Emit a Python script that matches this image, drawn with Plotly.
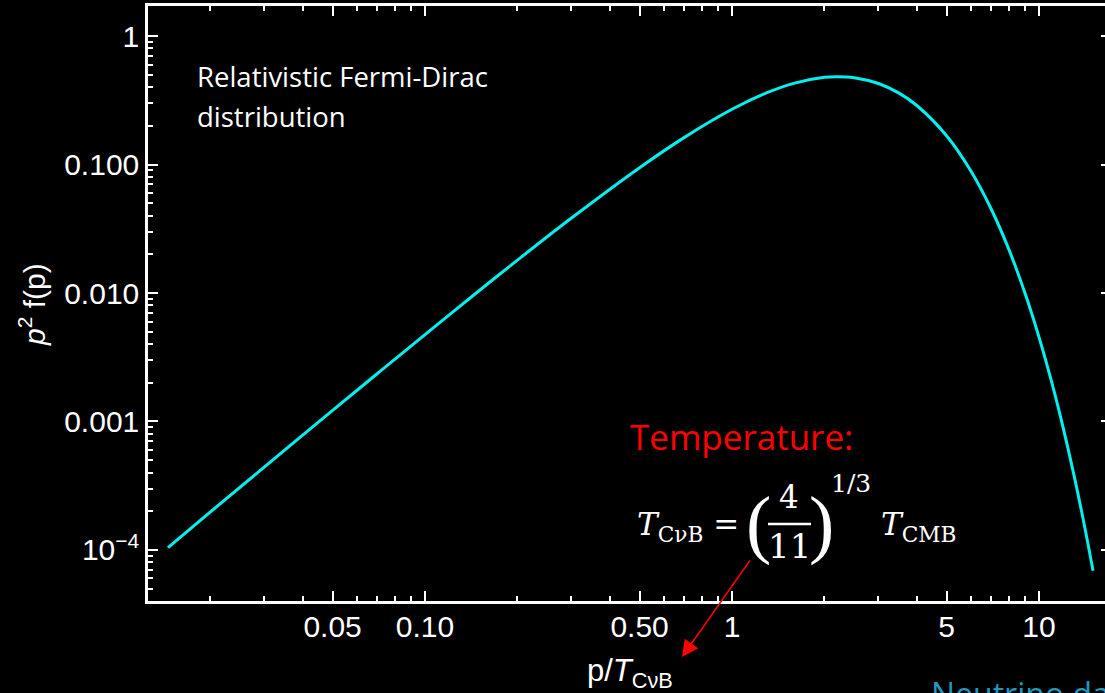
import plotly.graph_objects as go

# Momentum p/T and the relativistic Fermi-Dirac weight p^2 f(p) = p^2/(e^p + 1)
p_over_T = [0.01455, 0.02, 0.03, 0.05, 0.07, 0.1, 0.15, 0.2, 0.3, 0.5, 0.7, 1.0,
            1.3, 1.6, 2.0, 2.2, 2.5, 3.0, 3.5, 4.0, 5.0, 6.0, 7.0, 8.0, 9.0,
            10.0, 11.0, 12.0, 13.0, 14.0, 15.0]
p2_f = [1.044e-4, 1.980e-4, 4.433e-4, 1.219e-3, 2.364e-3, 4.750e-3, 0.01041,
        0.01801, 0.03830, 0.09439, 0.1626, 0.2689, 0.3619, 0.4300, 0.4768,
        0.4828, 0.4741, 0.4268, 0.3591, 0.2878, 0.1673, 0.08901, 0.04464,
        0.02146, 0.009995, 0.004540, 0.002021, 8.848e-4, 3.820e-4, 1.630e-4,
        6.883e-5]

x_major_vals = [0.05, 0.1, 0.5, 1, 5, 10]
x_major_text = ["0.05", "0.10", "0.50", "1", "5", "10"]
x_minor_vals = [0.02, 0.03, 0.04, 0.06, 0.07, 0.08, 0.09,
                0.2, 0.3, 0.4, 0.6, 0.7, 0.8, 0.9,
                2, 3, 4, 6, 7, 8, 9]
y_major_vals = [1e-4, 1e-3, 1e-2, 1e-1, 1]
y_major_text = ["10<sup>\u22124</sup>", "0.001", "0.010", "0.100", "1"]
y_minor_vals = [m * 10.0 ** d for d in range(-5, 0) for m in range(2, 10)
                if 4.1e-5 < m * 10.0 ** d < 1.7]

W, H = 1105, 693
ML, MR, MT, MB = 148, 0, 6, 92
PW, PH = W - ML - MR, H - MT - MB


def px(x):
    return (x - ML) / PW


def py(y):
    return (H - MB - y) / PH


fig = go.Figure()
fig.add_trace(go.Scatter(
    x=p_over_T, y=p2_f, mode="lines",
    line=dict(color="#00F0F0", width=3, shape="spline"),
    hoverinfo="skip", showlegend=False))
# copy on the right-hand axis so its ticks are drawn
fig.add_trace(go.Scatter(
    x=p_over_T, y=p2_f, mode="lines", yaxis="y2", opacity=0,
    line=dict(width=0), hoverinfo="skip", showlegend=False))

tick_font = dict(family="Liberation Sans, Arial, sans-serif", size=30, color="white")

fig.update_layout(
    width=W, height=H,
    margin=dict(l=ML, r=MR, t=MT, b=MB, pad=0),
    paper_bgcolor="black", plot_bgcolor="black",
    xaxis=dict(
        type="log", range=[-1.9023, 1.2150],
        showgrid=False, zeroline=False,
        showline=True, linecolor="white", linewidth=2.5, mirror="ticks",
        ticks="inside", ticklen=10, tickwidth=2, tickcolor="white",
        tickvals=x_major_vals, ticktext=x_major_text,
        tickfont=tick_font, ticklabelstandoff=-3,
        minor=dict(tickvals=x_minor_vals, ticks="inside", ticklen=5,
                   tickwidth=2, tickcolor="white"),
    ),
    yaxis=dict(
        type="log", range=[-4.397, 0.2335],
        showgrid=False, zeroline=False,
        showline=True, linecolor="white", linewidth=2.5, mirror=False,
        ticks="inside", ticklen=10, tickwidth=2, tickcolor="white",
        tickvals=y_major_vals, ticktext=y_major_text,
        tickfont=tick_font, ticklabelstandoff=0,
        minor=dict(tickvals=y_minor_vals, ticks="inside", ticklen=5,
                   tickwidth=2, tickcolor="white"),
    ),
    yaxis2=dict(
        type="log", range=[-4.397, 0.2335], overlaying="y", side="right",
        showgrid=False, zeroline=False, showline=False,
        ticks="inside", ticklen=4, tickwidth=2, tickcolor="white",
        tickvals=y_major_vals, showticklabels=False,
    ),
)

ann = []
# axis titles
ann.append(dict(text="p/<i>T</i><sub>C\u03bdB</sub>", x=px(630), y=py(673),
                xref="paper", yref="paper", showarrow=False,
                xanchor="center", yanchor="middle",
                font=dict(family="Liberation Sans, Arial, sans-serif", size=31, color="white")))
ann.append(dict(text="<i>p</i><sup>2</sup> f(p)", x=px(32), y=py(305),
                xref="paper", yref="paper", showarrow=False, textangle=-90,
                xanchor="center", yanchor="middle",
                font=dict(family="Liberation Sans, Arial, sans-serif", size=30, color="white")))
# description
label_font = dict(family="Open Sans, sans-serif", size=27.5, color="white")
ann.append(dict(text="Relativistic Fermi-Dirac", x=px(195), y=py(76),
                xref="paper", yref="paper", showarrow=False,
                xanchor="left", yanchor="middle", font=label_font))
ann.append(dict(text="distribution", x=px(195), y=py(116),
                xref="paper", yref="paper", showarrow=False,
                xanchor="left", yanchor="middle", font=label_font))
# temperature relation
ann.append(dict(text="Temperature:", x=px(628), y=py(436),
                xref="paper", yref="paper", showarrow=False,
                xanchor="left", yanchor="middle",
                font=dict(family="Open Sans, sans-serif", size=35, color="#FF0000")))
serif = "DejaVu Serif, serif"
paren = "Liberation Serif, serif"
ann.append(dict(text="<i>T</i><sub>C\u03bdB</sub> =", x=px(635), y=py(526),
                xref="paper", yref="paper", showarrow=False,
                xanchor="left", yanchor="middle",
                font=dict(family=serif, size=31, color="white")))
ann.append(dict(text="(", x=px(758), y=py(523),
                xref="paper", yref="paper", showarrow=False,
                xanchor="center", yanchor="middle",
                font=dict(family=paren, size=76, color="white")))
ann.append(dict(text="4", x=px(789), y=py(497),
                xref="paper", yref="paper", showarrow=False,
                xanchor="center", yanchor="middle",
                font=dict(family=serif, size=31, color="white")))
ann.append(dict(text="11", x=px(789), y=py(546),
                xref="paper", yref="paper", showarrow=False,
                xanchor="center", yanchor="middle",
                font=dict(family=serif, size=34, color="white")))
ann.append(dict(text=")", x=px(821), y=py(523),
                xref="paper", yref="paper", showarrow=False,
                xanchor="center", yanchor="middle",
                font=dict(family=paren, size=76, color="white")))
ann.append(dict(text="1/3", x=px(851), y=py(483),
                xref="paper", yref="paper", showarrow=False,
                xanchor="center", yanchor="middle",
                font=dict(family=serif, size=25, color="white")))
ann.append(dict(text="<i>T</i><sub>CMB</sub>", x=px(879), y=py(526),
                xref="paper", yref="paper", showarrow=False,
                xanchor="left", yanchor="middle",
                font=dict(family=serif, size=31, color="white")))
# arrow toward the axis title
ann.append(dict(text="", x=px(682), y=py(657), xref="paper", yref="paper",
                ax=69, ay=-98, axref="pixel", ayref="pixel",
                showarrow=True, arrowhead=2, arrowsize=2.2, arrowwidth=1.5,
                arrowcolor="#FF0000", standoff=0))
# caption running off the lower edge
ann.append(dict(text="Neutrino data", x=px(929), y=py(670),
                xref="paper", yref="paper", showarrow=False,
                xanchor="left", yanchor="top",
                font=dict(family="Open Sans, sans-serif", size=32, color="#1E9AC0")))
fig.update_layout(annotations=ann)

# fraction bar of 4/11
fig.add_shape(type="line", xref="paper", yref="paper",
              x0=px(768), x1=px(811), y0=py(524), y1=py(524),
              line=dict(color="white", width=2.5))

fig.write_html("out.html")
